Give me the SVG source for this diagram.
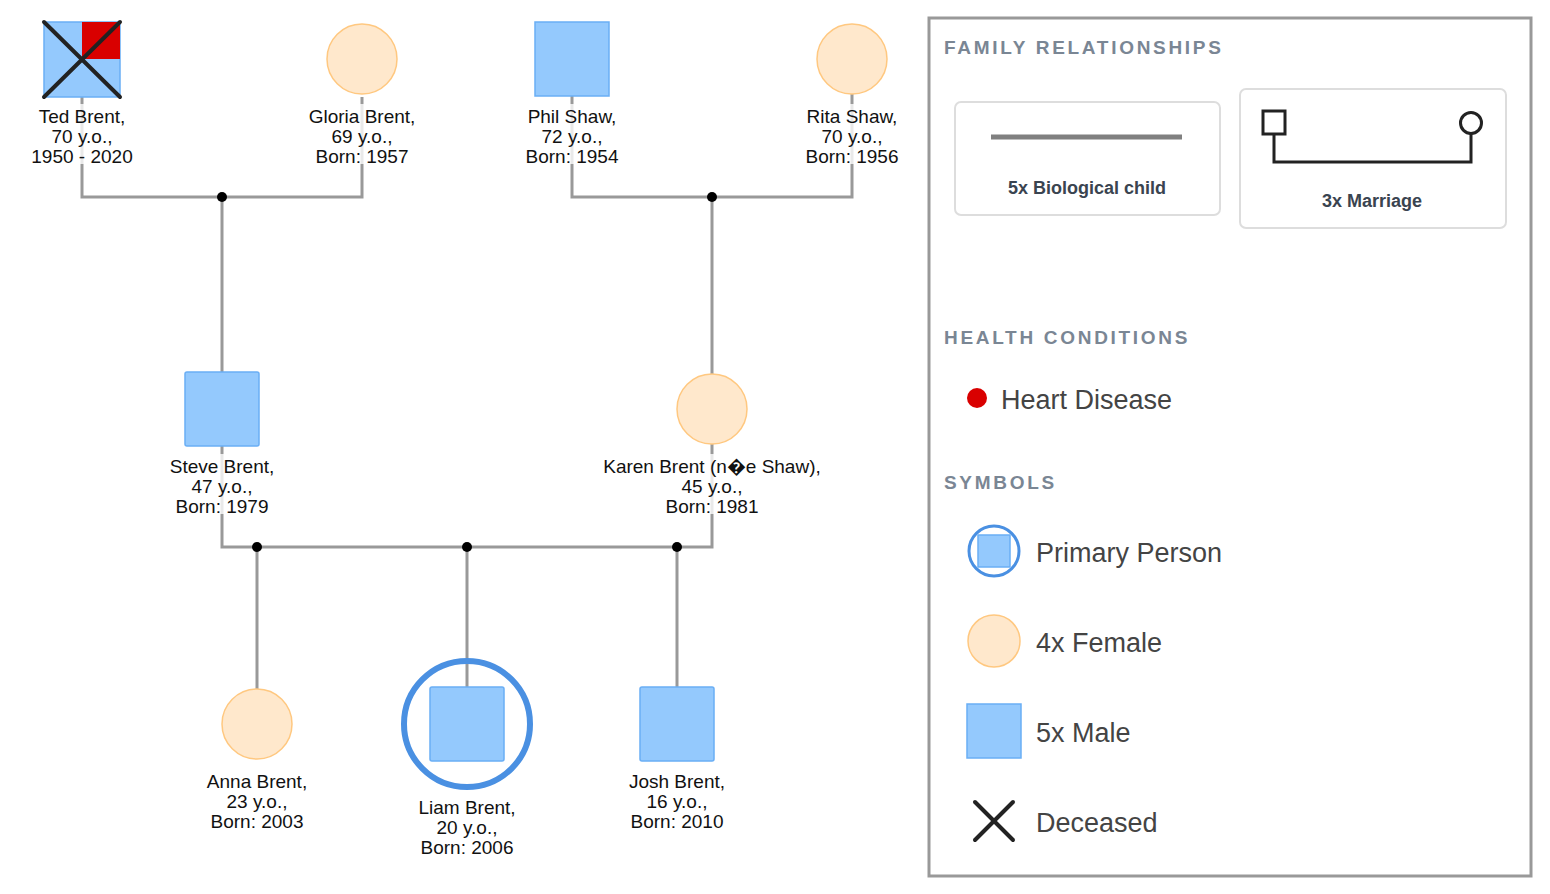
<svg xmlns="http://www.w3.org/2000/svg" width="1550" height="894" viewBox="0 0 1550 894">
<style>
.ln{stroke:#999;stroke-width:3;fill:none}
.m{fill:#94c9fd;stroke:#6aaef5;stroke-width:1.5}
.f{fill:#ffe8cc;stroke:#ffc880;stroke-width:1.5}
.lbl{font-family:"Liberation Sans",Arial,sans-serif;font-size:19px;fill:#111;text-anchor:middle}
.hd{font-family:"Liberation Sans",Arial,sans-serif;font-size:19px;font-weight:bold;fill:#7a8694;letter-spacing:2.7px}
.lt{font-family:"Liberation Sans",Arial,sans-serif;font-size:27px;fill:#444}
.bt{font-family:"Liberation Sans",Arial,sans-serif;font-size:18px;font-weight:bold;fill:#3a4450;text-anchor:middle}
.x{stroke:#222;stroke-width:4;stroke-linecap:round}
.dot{fill:#000}
.veil{fill:#fff;opacity:0.78}
</style>
<rect width="1550" height="894" fill="#fff"/>
<g id="connectors">
<path class="ln" d="M82 97V197H362V97"/>
<path class="ln" d="M572 96V197H852V94"/>
<path class="ln" d="M222 197V372"/>
<path class="ln" d="M712 197V374"/>
<path class="ln" d="M222 446V547H712V444"/>
<path class="ln" d="M257 547V689M467 547V687M677 547V687"/>
<circle class="dot" cx="222" cy="197" r="5"/>
<circle class="dot" cx="712" cy="197" r="5"/>
<circle class="dot" cx="257" cy="547" r="5"/>
<circle class="dot" cx="467" cy="547" r="5"/>
<circle class="dot" cx="677" cy="547" r="5"/>
<rect class="veil" x="76" y="104" width="12" height="60"/>
<rect class="veil" x="356" y="104" width="12" height="60"/>
<rect class="veil" x="566" y="104" width="12" height="60"/>
<rect class="veil" x="846" y="104" width="12" height="60"/>
<rect class="veil" x="216" y="454" width="12" height="60"/>
<rect class="veil" x="706" y="454" width="12" height="60"/>
</g>
<g id="ted">
<rect class="m" x="44" y="22" width="76" height="75"/>
<rect x="82" y="22" width="38" height="37" fill="#d90000"/>
<line class="x" x1="44" y1="22" x2="120" y2="97"/><line class="x" x1="120" y1="22" x2="44" y2="97"/>
<text class="lbl"><tspan x="82" y="123">Ted Brent,</tspan><tspan x="82" y="143">70 y.o.,</tspan><tspan x="82" y="163">1950 - 2020</tspan></text>
</g>
<g id="gloria">
<circle class="f" cx="362" cy="59" r="35"/>
<text class="lbl"><tspan x="362" y="123">Gloria Brent,</tspan><tspan x="362" y="143">69 y.o.,</tspan><tspan x="362" y="163">Born: 1957</tspan></text>
</g>
<g id="phil">
<rect class="m" x="535" y="22" width="74" height="74"/>
<text class="lbl"><tspan x="572" y="123">Phil Shaw,</tspan><tspan x="572" y="143">72 y.o.,</tspan><tspan x="572" y="163">Born: 1954</tspan></text>
</g>
<g id="rita">
<circle class="f" cx="852" cy="59" r="35"/>
<text class="lbl"><tspan x="852" y="123">Rita Shaw,</tspan><tspan x="852" y="143">70 y.o.,</tspan><tspan x="852" y="163">Born: 1956</tspan></text>
</g>
<g id="steve">
<rect class="m" x="185" y="372" width="74" height="74" rx="2"/>
<text class="lbl"><tspan x="222" y="473">Steve Brent,</tspan><tspan x="222" y="493">47 y.o.,</tspan><tspan x="222" y="513">Born: 1979</tspan></text>
</g>
<g id="karen">
<circle class="f" cx="712" cy="409" r="35"/>
<text class="lbl"><tspan x="712" y="473">Karen Brent (n�e Shaw),</tspan><tspan x="712" y="493">45 y.o.,</tspan><tspan x="712" y="513">Born: 1981</tspan></text>
</g>
<g id="anna">
<circle class="f" cx="257" cy="724" r="35"/>
<text class="lbl"><tspan x="257" y="788">Anna Brent,</tspan><tspan x="257" y="808">23 y.o.,</tspan><tspan x="257" y="828">Born: 2003</tspan></text>
</g>
<g id="liam">
<circle cx="467" cy="724" r="63" fill="none" stroke="#4a90e2" stroke-width="6"/>
<rect class="m" x="430" y="687" width="74" height="74" rx="2"/>
<text class="lbl"><tspan x="467" y="814">Liam Brent,</tspan><tspan x="467" y="834">20 y.o.,</tspan><tspan x="467" y="854">Born: 2006</tspan></text>
</g>
<g id="josh">
<rect class="m" x="640" y="687" width="74" height="74" rx="2"/>
<text class="lbl"><tspan x="677" y="788">Josh Brent,</tspan><tspan x="677" y="808">16 y.o.,</tspan><tspan x="677" y="828">Born: 2010</tspan></text>
</g>
<g id="legend">
<rect x="929" y="18" width="602" height="858" fill="#fff" stroke="#999" stroke-width="3"/>
<text class="hd" x="944" y="54">FAMILY RELATIONSHIPS</text>
<rect x="955" y="102" width="265" height="113" rx="6" fill="#fff" stroke="#ddd" stroke-width="2"/>
<line x1="991" y1="137" x2="1182" y2="137" stroke="#808080" stroke-width="5"/>
<text class="bt" x="1087" y="194">5x Biological child</text>
<rect x="1240" y="89" width="266" height="139" rx="6" fill="#fff" stroke="#ddd" stroke-width="2"/>
<rect x="1263" y="111" width="22" height="23" fill="#fff" stroke="#222" stroke-width="3"/>
<circle cx="1471" cy="123" r="10.5" fill="#fff" stroke="#222" stroke-width="3"/>
<path d="M1274 134V162H1471V134" fill="none" stroke="#222" stroke-width="3"/>
<text class="bt" x="1372" y="207">3x Marriage</text>
<text class="hd" x="944" y="344">HEALTH CONDITIONS</text>
<circle cx="977" cy="398" r="10" fill="#d90000"/>
<text class="lt" x="1001" y="409">Heart Disease</text>
<text class="hd" x="944" y="489">SYMBOLS</text>
<circle cx="994" cy="551" r="25" fill="none" stroke="#4a90e2" stroke-width="3"/>
<rect class="m" x="978" y="535" width="32" height="32"/>
<text class="lt" x="1036" y="562">Primary Person</text>
<circle class="f" cx="994" cy="641" r="26"/>
<text class="lt" x="1036" y="652">4x Female</text>
<rect class="m" x="967" y="704" width="54" height="54"/>
<text class="lt" x="1036" y="742">5x Male</text>
<line class="x" x1="975" y1="802" x2="1013" y2="840"/><line class="x" x1="1013" y1="802" x2="975" y2="840"/>
<text class="lt" x="1036" y="832">Deceased</text>
</g>
</svg>
